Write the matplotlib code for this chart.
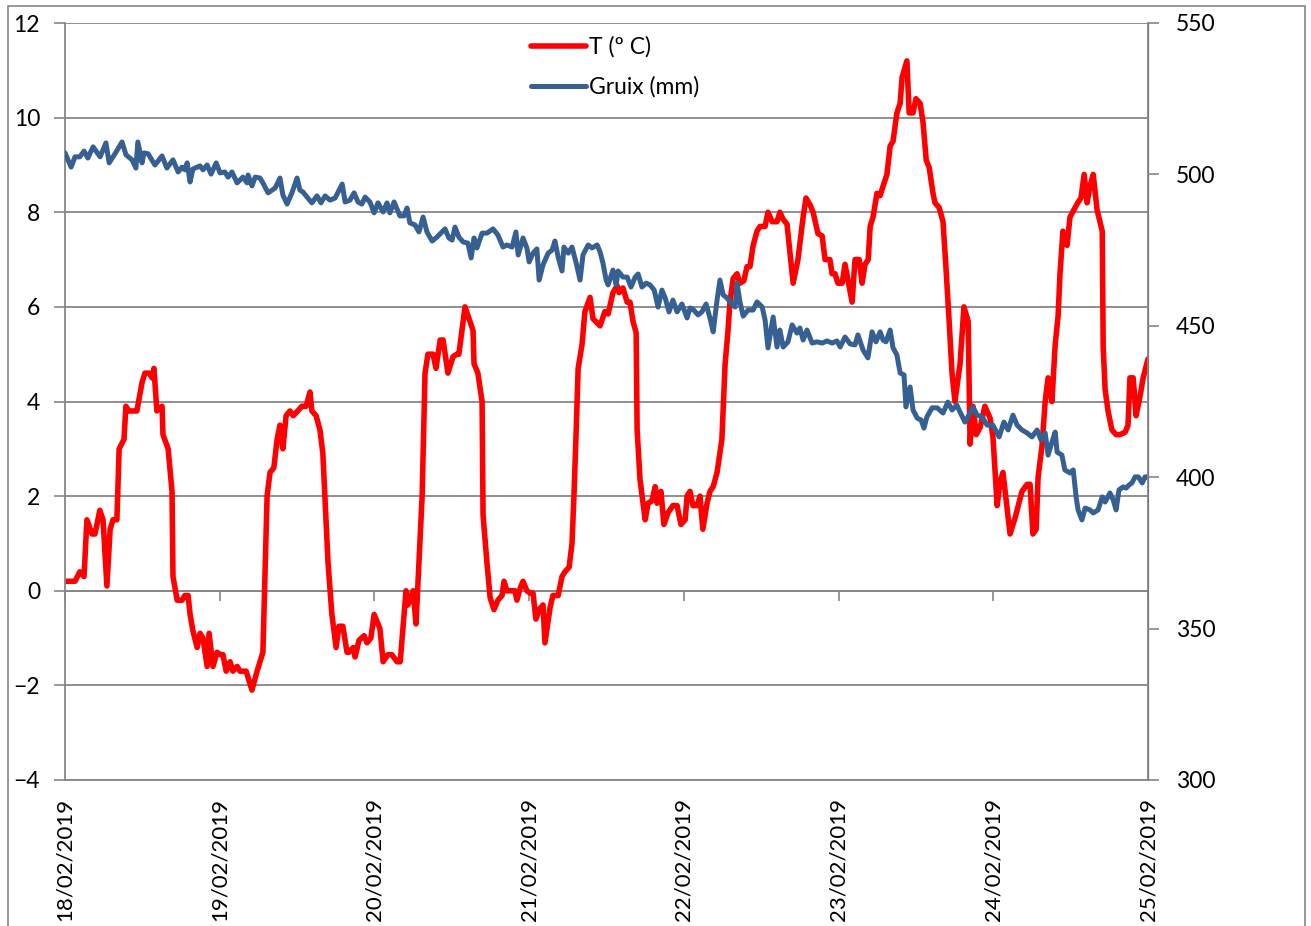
import matplotlib
matplotlib.use('Agg')
import matplotlib.pyplot as plt
import matplotlib.dates as mdates
from matplotlib.patches import Rectangle
import pandas as pd

start_date = '2019-02-18'
day_labels = ['18/02/2019', '19/02/2019', '20/02/2019', '21/02/2019',
              '22/02/2019', '23/02/2019', '24/02/2019', '25/02/2019']

temp_hours = [
    0.0, 1.55, 2.3, 2.95, 3.4, 4.2, 4.65, 5.4, 5.9, 6.5,
    7.0, 7.45, 8.05, 8.4, 9.15, 9.45, 9.9, 10.55, 11.15, 11.95,
    12.4, 13.05, 13.5, 13.8, 14.25, 15.05, 15.2, 16.0, 16.6, 16.75,
    17.4, 18.15, 18.6, 19.1, 19.4, 19.85, 20.5, 20.95, 21.4, 22.05,
    22.35, 22.95, 23.6, 24.05, 24.5, 25.0, 25.6, 26.05, 26.7, 27.15,
    28.1, 29.0, 29.8, 30.7, 31.35, 31.8, 32.4, 32.9, 33.35, 33.8,
    34.3, 34.9, 35.4, 36.1, 36.75, 37.4, 38.0, 38.3, 38.95, 39.55,
    40.0, 40.8, 41.4, 42.05, 42.5, 43.1, 43.75, 44.05, 44.7, 45.0,
    45.6, 46.4, 46.85, 47.45, 47.95, 48.85, 49.35, 50.1, 50.7, 51.5,
    52.0, 52.9, 53.2, 54.0, 54.45, 55.4, 55.85, 56.3, 57.1, 57.55,
    58.2, 58.65, 59.4, 60.2, 60.8, 61.1, 62.05, 63.3, 63.45, 64.05,
    64.7, 64.85, 65.45, 65.95, 66.55, 67.15, 67.8, 68.1, 68.55, 69.35,
    69.8, 70.1, 70.6, 71.05, 71.65, 72.15, 72.6, 73.05, 73.55, 74.15,
    74.45, 75.25, 75.7, 76.5, 77.1, 77.55, 78.2, 78.65, 78.95, 79.3,
    79.6, 80.2, 80.65, 81.45, 81.9, 83.0, 83.75, 84.25, 85.0, 85.65,
    85.95, 86.55, 87.2, 87.65, 88.1, 88.6, 88.75, 89.2, 90.0, 90.45,
    91.05, 91.55, 91.85, 92.45, 92.9, 93.55, 94.3, 94.95, 95.55, 96.2,
    96.5, 96.95, 97.4, 98.05, 98.5, 98.95, 99.6, 100.05, 100.55, 101.15,
    101.9, 102.4, 102.85, 103.15, 103.65, 104.25, 104.7, 105.3, 105.8, 106.25,
    106.75, 107.35, 107.8, 108.6, 109.05, 109.7, 110.45, 110.9, 111.4, 112.0,
    112.5, 112.95, 113.7, 114.5, 114.95, 115.6, 116.05, 116.8, 117.45, 117.9,
    118.65, 119.0, 119.45, 119.9, 120.55, 121.0, 122.1, 122.55, 123.2, 123.65,
    124.1, 124.6, 124.9, 125.35, 125.95, 126.45, 126.9, 127.5, 128.0, 128.45,
    129.05, 129.55, 129.85, 130.6, 130.95, 131.55, 132.0, 132.65, 133.1, 133.6,
    134.05, 134.65, 134.95, 135.6, 136.2, 136.65, 137.15, 137.6, 138.05, 138.85,
    139.45, 140.1, 140.4, 140.85, 141.35, 141.95, 142.7, 143.5, 143.95, 144.6,
    145.05, 145.5, 146.6, 147.4, 148.45, 149.25, 149.7, 150.15, 150.65, 150.95,
    151.55, 152.05, 152.5, 153.1, 153.6, 154.05, 154.35, 154.8, 155.45, 155.9,
    156.5, 157.1, 157.6, 158.1, 158.55, 159.0, 159.5, 160.1, 160.9, 161.05,
    161.35, 161.8, 162.4, 163.05, 163.65, 164.45, 164.9, 165.2, 165.7, 166.15,
    166.75, 167.25, 168.0,
]
temp_values = [
    0.2, 0.2, 0.4, 0.3, 1.5, 1.2, 1.2, 1.7, 1.5, 0.1,
    1.3, 1.5, 1.5, 3.0, 3.2, 3.9, 3.8, 3.8, 3.8, 4.4,
    4.6, 4.6, 4.5, 4.7, 3.8, 3.9, 3.3, 3.0, 2.1, 0.3,
    -0.2, -0.2, -0.1, -0.1, -0.5, -0.85, -1.2, -0.9, -1.0, -1.6,
    -0.9, -1.6, -1.3, -1.35, -1.35, -1.7, -1.5, -1.7, -1.6, -1.7,
    -1.7, -2.1, -1.7, -1.3, 2.0, 2.5, 2.6, 3.2, 3.5, 3.0,
    3.7, 3.8, 3.7, 3.8, 3.9, 3.9, 4.2, 3.8, 3.7, 3.4,
    2.9, 0.6, -0.5, -1.2, -0.75, -0.75, -1.3, -1.3, -1.2, -1.4,
    -1.05, -0.95, -1.1, -1.0, -0.5, -0.8, -1.5, -1.35, -1.35, -1.5,
    -1.5, 0.0, -0.3, 0.0, -0.7, 2.0, 4.6, 5.0, 5.0, 4.7,
    5.3, 5.3, 4.6, 4.95, 5.0, 5.0, 6.0, 5.5, 4.8, 4.6,
    4.0, 1.6, 0.6, -0.15, -0.4, -0.2, -0.1, 0.2, 0.0, 0.0,
    0.0, -0.2, 0.05, 0.2, 0.0, -0.05, -0.05, -0.6, -0.4, -0.3,
    -1.1, -0.35, -0.1, -0.1, 0.3, 0.4, 0.5, 1.0, 2.0, 3.4,
    4.7, 5.2, 5.9, 6.2, 5.75, 5.6, 5.9, 5.85, 6.3, 6.45,
    6.3, 6.4, 6.1, 6.1, 5.7, 5.45, 3.4, 2.35, 1.5, 1.85,
    1.9, 2.2, 1.85, 2.1, 1.4, 1.65, 1.8, 1.8, 1.4, 1.5,
    2.0, 2.1, 1.8, 1.8, 2.0, 1.3, 1.85, 2.1, 2.2, 2.5,
    3.2, 4.8, 5.5, 6.1, 6.6, 6.7, 6.5, 6.55, 6.85, 6.85,
    7.3, 7.6, 7.7, 7.7, 8.0, 7.8, 7.8, 8.0, 7.85, 7.75,
    7.1, 6.5, 7.0, 7.9, 8.3, 8.15, 8.0, 7.55, 7.5, 7.0,
    7.0, 6.7, 6.7, 6.5, 6.5, 6.9, 6.1, 7.0, 7.0, 6.5,
    6.9, 7.0, 7.7, 7.9, 8.4, 8.35, 8.55, 8.8, 9.4, 9.5,
    10.1, 10.3, 10.85, 11.2, 10.1, 10.1, 10.4, 10.3, 9.9, 9.1,
    8.95, 8.4, 8.2, 8.1, 7.8, 6.85, 5.7, 4.6, 4.0, 4.8,
    6.0, 5.7, 3.1, 3.9, 3.3, 3.45, 3.9, 3.65, 3.25, 1.8,
    2.3, 2.5, 1.2, 1.55, 2.1, 2.25, 2.25, 1.2, 1.3, 2.4,
    3.05, 4.0, 4.5, 4.0, 5.2, 5.8, 6.7, 7.6, 7.3, 7.9,
    8.05, 8.2, 8.3, 8.8, 8.2, 8.55, 8.8, 8.05, 7.6, 5.15,
    4.25, 3.8, 3.4, 3.3, 3.3, 3.35, 3.5, 4.5, 4.5, 3.7,
    4.1, 4.5, 4.9,
]

gruix_hours = [
    0.0, 0.95, 1.55, 2.3, 2.95, 3.55, 4.35, 5.45, 6.35, 6.85,
    7.75, 8.85, 9.45, 10.4, 11.0, 11.3, 11.95, 12.25, 12.9, 13.95,
    15.05, 15.8, 16.75, 17.55, 18.15, 18.6, 18.95, 19.4, 19.85, 20.95,
    21.4, 22.05, 22.65, 23.45, 24.05, 24.8, 25.3, 25.9, 26.7, 27.6,
    28.25, 28.4, 29.0, 29.5, 30.25, 30.7, 31.5, 32.6, 33.35, 33.8,
    34.45, 35.2, 36.0, 36.45, 36.9, 37.55, 38.3, 39.1, 39.7, 40.35,
    41.1, 41.9, 43.0, 43.45, 44.2, 44.85, 45.45, 46.05, 46.55, 47.3,
    47.95, 48.55, 49.35, 49.95, 50.4, 51.05, 51.95, 52.6, 53.05, 53.5,
    54.3, 54.9, 55.55, 56.15, 56.95, 57.7, 58.5, 58.95, 59.55, 60.05,
    60.5, 61.1, 61.75, 62.5, 63.0, 63.45, 63.9, 64.7, 65.45, 66.4,
    67.15, 67.95, 68.55, 69.35, 69.95, 70.3, 71.05, 71.65, 72.0, 72.6,
    73.2, 73.55, 74.15, 74.95, 75.55, 76.0, 76.5, 77.1, 77.4, 78.05,
    78.65, 79.3, 79.9, 80.35, 81.15, 81.75, 82.55, 83.0, 83.45, 83.95,
    84.25, 85.0, 85.5, 85.8, 86.55, 87.2, 87.8, 88.45, 88.9, 89.5,
    90.15, 90.75, 91.4, 92.0, 92.6, 93.1, 93.7, 94.3, 94.95, 95.7,
    96.5, 96.95, 97.4, 98.2, 98.8, 99.45, 100.05, 100.55, 101.15, 101.6,
    102.1, 102.7, 103.3, 103.95, 104.25, 104.7, 105.2, 105.95, 106.75, 107.35,
    108.15, 108.6, 109.05, 109.85, 110.45, 110.9, 111.4, 112.15, 112.8, 113.55,
    114.0, 114.5, 115.1, 115.9, 116.65, 117.45, 118.2, 119.0, 119.75, 120.25,
    121.0, 121.8, 122.55, 123.0, 123.8, 124.55, 125.2, 125.8, 126.45, 126.9,
    127.35, 128.0, 128.45, 129.05, 129.55, 130.15, 130.45, 131.1, 131.55, 132.2,
    132.8, 133.25, 133.7, 134.5, 135.3, 136.2, 136.95, 137.6, 138.35, 138.85,
    139.6, 140.4, 140.85, 141.5, 142.25, 143.05, 143.95, 144.9, 145.65, 146.3,
    147.05, 147.7, 148.45, 149.25, 150.0, 150.8, 151.4, 152.05, 152.5, 153.1,
    153.6, 153.9, 154.65, 155.1, 155.9, 156.4, 156.85, 157.15, 157.75, 158.25,
    159.0, 159.5, 160.25, 160.9, 161.35, 162.1, 162.6, 163.05, 163.5, 164.15,
    164.6, 165.05, 165.5, 166.0, 166.5, 167.1, 167.55, 168.0,
]
gruix_values = [
    507.1, 502.4, 505.8, 505.8, 507.7, 505.4, 509.1, 505.8, 510.4, 503.8,
    506.8, 510.7, 506.5, 504.8, 502.1, 510.7, 503.8, 507.1, 506.8, 503.1,
    506.1, 502.1, 504.8, 500.8, 502.4, 501.5, 503.8, 497.5, 501.8, 502.8,
    501.5, 503.1, 500.1, 503.8, 500.5, 500.8, 499.1, 500.8, 497.2, 499.1,
    497.2, 499.8, 496.2, 499.1, 498.8, 497.2, 493.9, 495.5, 498.8, 493.2,
    490.2, 493.9, 498.8, 494.8, 494.2, 492.5, 490.6, 492.9, 490.6, 492.9,
    491.5, 492.2, 496.8, 490.9, 491.5, 493.9, 490.9, 490.2, 492.5, 490.9,
    487.3, 490.6, 487.6, 490.6, 487.3, 490.9, 486.3, 486.3, 488.9, 484.0,
    483.3, 481.0, 485.9, 481.0, 478.0, 479.3, 481.0, 482.0, 479.0, 478.3,
    482.6, 479.3, 477.7, 477.3, 472.4, 479.0, 475.7, 480.6, 480.6, 482.0,
    480.0, 476.0, 476.7, 476.0, 481.0, 473.4, 479.0, 475.7, 471.1, 474.0,
    475.4, 465.1, 470.1, 474.0, 475.0, 478.0, 472.7, 468.1, 476.0, 474.0,
    476.0, 470.7, 465.1, 473.4, 476.7, 475.7, 476.7, 474.4, 470.7, 465.1,
    463.5, 468.4, 463.5, 468.1, 466.1, 466.1, 462.8, 466.1, 467.1, 462.8,
    464.1, 463.5, 461.8, 456.2, 461.8, 459.2, 454.6, 458.5, 454.6, 457.2,
    452.6, 455.9, 455.5, 453.6, 454.6, 457.2, 452.6, 448.0, 458.5, 465.1,
    460.2, 459.2, 457.5, 456.2, 464.1, 457.9, 453.2, 455.2, 455.2, 457.9,
    456.2, 451.9, 442.7, 452.9, 443.0, 448.6, 443.0, 444.7, 450.3, 447.6,
    449.3, 445.3, 448.6, 444.3, 444.7, 444.3, 445.0, 444.3, 445.0, 443.0,
    446.3, 444.0, 443.7, 447.0, 442.0, 439.4, 448.0, 444.7, 448.0, 445.3,
    444.7, 448.6, 442.7, 440.4, 434.4, 433.8, 423.2, 429.8, 422.2, 419.5,
    418.9, 416.2, 419.9, 422.9, 422.9, 421.2, 424.8, 422.2, 423.8, 421.5,
    418.2, 421.2, 423.2, 420.5, 419.9, 417.2, 417.2, 413.3, 418.2, 415.6,
    420.5, 417.2, 415.6, 414.6, 413.3, 415.6, 412.3, 414.6, 407.3, 411.6,
    414.9, 408.3, 407.3, 402.4, 401.4, 402.4, 393.5, 389.2, 385.9, 389.8,
    389.2, 388.2, 389.2, 393.5, 391.8, 394.8, 392.5, 389.2, 395.8, 396.8,
    396.4, 397.4, 398.1, 400.1, 400.1, 398.1, 400.1, 400.1,
]

temp_label = 'T (º C)'
gruix_label = 'Gruix (mm)'

plt.rcParams['font.family'] = ['Lato', 'DejaVu Sans']
GRAY = '#868686'
W, H = 1311, 926

fig = plt.figure(figsize=(W / 100, H / 100), dpi=100)
fig.patch.set_facecolor('white')
ax = fig.add_axes([65 / W, 1 - 780 / H, (1148 - 65) / W, (780 - 23) / H])
ax2 = ax.twinx()

t0 = pd.Timestamp(start_date)
tt = t0 + pd.to_timedelta(temp_hours, unit='h')
tg = t0 + pd.to_timedelta(gruix_hours, unit='h')

l1, = ax.plot(tt, temp_values, color='#FF0000', lw=4.0,
              solid_joinstyle='round', solid_capstyle='round', label=temp_label)
l2, = ax2.plot(tg, gruix_values, color='#376092', lw=3.6,
               solid_joinstyle='round', solid_capstyle='round', label=gruix_label)

day_ticks = pd.date_range(start_date, periods=len(day_labels), freq='D')
ax.set_xlim(day_ticks[0], day_ticks[-1])
ax.set_ylim(-4, 12)
ax.set_yticks(range(-4, 13, 2))
ax2.set_ylim(300, 550)
ax2.set_yticks(range(300, 551, 50))

ax.set_xticks(day_ticks)
ax.set_xticklabels(day_labels, rotation=90, ha='center', va='top')
ax.tick_params(axis='x', length=0, pad=13, labelsize=16)
ax.tick_params(axis='y', direction='out', length=8, width=1.2, color=GRAY,
               pad=10, labelsize=16.5)
ax2.tick_params(axis='y', direction='out', length=8, width=1.2, color=GRAY,
                pad=12, labelsize=16.5)

ax.grid(axis='y', color=GRAY, lw=1.3)
ax.set_axisbelow(True)
for sp in ['top']:
    ax.spines[sp].set_visible(False)
    ax2.spines[sp].set_visible(False)
for sp in ['left', 'bottom']:
    ax.spines[sp].set_color(GRAY)
    ax.spines[sp].set_linewidth(1.3)
ax2.spines['right'].set_color(GRAY)
ax2.spines['right'].set_linewidth(1.3)
ax2.spines['left'].set_visible(False)
ax2.spines['bottom'].set_visible(False)

# category axis crossing at 0 with outward tick marks
sec = ax.secondary_xaxis(0.25)
sec.set_xticks(mdates.date2num(day_ticks))
sec.tick_params(axis='x', direction='out', length=7, width=1.2, color=GRAY,
                labelbottom=False)
sec.spines['bottom'].set_color(GRAY)
sec.spines['bottom'].set_linewidth(1.3)

leg = ax2.legend(handles=[l1, l2], loc='center left',
                 bbox_to_anchor=(531 / W, 1 - 67 / H), bbox_transform=fig.transFigure,
                 frameon=False, fontsize=16.5, handlelength=2.4, handletextpad=0.15,
                 labelspacing=0.82, borderpad=0, borderaxespad=0)

fig.patches.append(Rectangle((8 / W, -0.05), (1305 - 8) / W, 1 - 6 / H + 0.05,
                             transform=fig.transFigure, fill=False,
                             edgecolor=GRAY, lw=1.2))

fig.savefig('out.png', dpi=100)
